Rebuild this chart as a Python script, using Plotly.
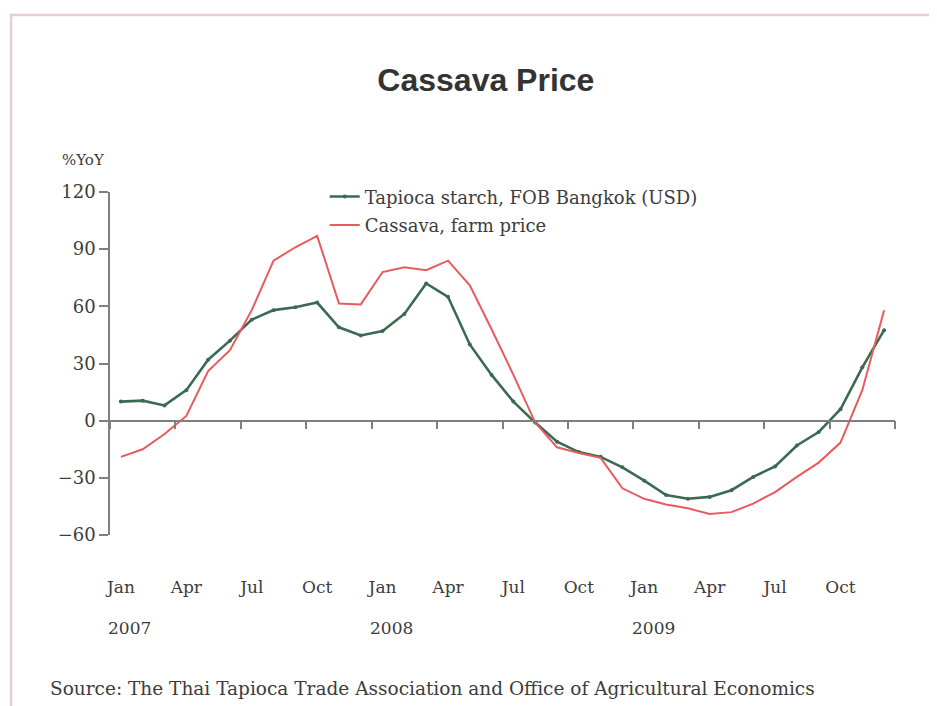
import plotly.graph_objects as go

# ---- data ----
month_names = ["Jan", "Feb", "Mar", "Apr", "May", "Jun", "Jul", "Aug", "Sep", "Oct", "Nov", "Dec"]
years = ["2007", "2008", "2009"]
months = [f"{m} {y}" for y in years for m in month_names]

tapioca_starch = [10, 10.5, 8, 16, 32, 42, 53, 58, 59.5, 62, 49, 44.7,
                  47, 56, 72, 65, 40, 24, 10, -1, -11, -16.5, -19, -24.5,
                  -31.5, -39, -41, -40, -36.5, -29.5, -24, -13, -6, 6, 28, 47.5]
cassava_farm = [-19, -15, -7, 2.5, 26, 37, 58, 84, 91, 97, 61.5, 61,
                78, 80.5, 79, 84, 71, 48, 24, -1, -14, -17, -19.5, -35.5,
                -41, -44, -46, -49, -48, -43.5, -37.5, -29.5, -22, -11.5, 16, 58]

y_ticks = [-60, -30, 0, 30, 60, 90, 120]
label_months = months[::3]
label_text = [m.split()[0] for m in label_months]
year_months = months[::12]

GREEN = "#3b6a52"
RED = "#e85a5e"
AXIS = "#7f7f7f"
TEXT = "#3c3c3c"
SERIF = "DejaVu Serif"

fig = go.Figure()
fig.add_trace(go.Scatter(
    x=months, y=tapioca_starch, name="Tapioca starch, FOB Bangkok (USD)",
    mode="lines+markers", line=dict(color=GREEN, width=2.6),
    marker=dict(color=GREEN, size=4), legendgroup="a"))
fig.add_trace(go.Scatter(
    x=months, y=cassava_farm, name="Cassava, farm price",
    mode="lines", line=dict(color=RED, width=2), legendgroup="b"))
# invisible carrier for the zero-line axis with boundary ticks
fig.add_trace(go.Scatter(
    x=list(range(len(months))), y=tapioca_starch, xaxis="x2", yaxis="y",
    mode="lines", line=dict(width=0), opacity=0, showlegend=False, hoverinfo="skip"))

ymin, ymax = min(y_ticks), max(y_ticks)
zero_pos = (0 - ymin) / (ymax - ymin)

fig.update_layout(
    width=937, height=706,
    paper_bgcolor="white", plot_bgcolor="rgba(0,0,0,0)",
    margin=dict(l=102, r=50, t=184, b=179),
    title=dict(text="<b>Cassava Price</b>", x=0.51, xanchor="center", y=0.898, yanchor="middle",
               font=dict(family="Liberation Sans", size=32, color="#333333")),
    font=dict(family=SERIF, color=TEXT, size=17),
    showlegend=True,
    legend=dict(x=0.2735, y=1.04, xanchor="left", yanchor="top",
                bgcolor="rgba(0,0,0,0)", font=dict(family=SERIF, size=18, color=TEXT),
                itemwidth=30, tracegroupgap=2),
    xaxis=dict(type="category", categoryorder="array", categoryarray=months,
               range=[-0.5, len(months) - 0.5],
               showline=False, showgrid=False, zeroline=False, ticks="",
               tickmode="array", tickvals=label_months, ticktext=label_text,
               ticklabelstandoff=40, tickfont=dict(family=SERIF, size=17, color=TEXT)),
    xaxis2=dict(overlaying="x", anchor="free", position=zero_pos, side="bottom",
                range=[-0.5, len(months) - 0.5],
                tickmode="array", tickvals=[i - 0.5 for i in range(0, len(months) + 1, 3)],
                showticklabels=False, ticks="outside", ticklen=8, tickcolor=AXIS, tickwidth=1.5,
                showline=True, linecolor=AXIS, linewidth=1.5, showgrid=False, zeroline=False),
    yaxis=dict(range=[ymin, ymax], tickmode="array", tickvals=y_ticks,
               showline=True, linecolor=AXIS, linewidth=1.5,
               ticks="outside", ticklen=9, tickcolor=AXIS, tickwidth=1.5,
               showgrid=False, zeroline=False,
               tickfont=dict(family=SERIF, size=18, color=TEXT)),
    shapes=[dict(type="rect", xref="paper", yref="paper",
                 x0=-0.126, x1=1.2, y0=-0.7, y1=1.516,
                 line=dict(color="#e8cdd5", width=2.5), fillcolor="rgba(0,0,0,0)", layer="below")],
)

annotations = []
for m in year_months:
    annotations.append(dict(x=m, y=0, xref="x", yref="paper", yshift=-93, xshift=9,
                            text=m.split()[1], showarrow=False, xanchor="center", yanchor="middle",
                            font=dict(family=SERIF, size=17, color=TEXT)))
annotations.append(dict(x=0, y=1, xref="paper", yref="paper", xshift=-50, yshift=32,
                        text="%YoY", showarrow=False, xanchor="left", yanchor="middle",
                        font=dict(family=SERIF, size=15, color=TEXT)))
annotations.append(dict(x=0, y=0, xref="paper", yref="paper", xshift=-62, yshift=-153,
                        text="Source: The Thai Tapioca Trade Association and Office of Agricultural Economics",
                        showarrow=False, xanchor="left", yanchor="middle",
                        font=dict(family=SERIF, size=18.5, color=TEXT)))
fig.update_layout(annotations=annotations)

fig.write_html("out.html")
